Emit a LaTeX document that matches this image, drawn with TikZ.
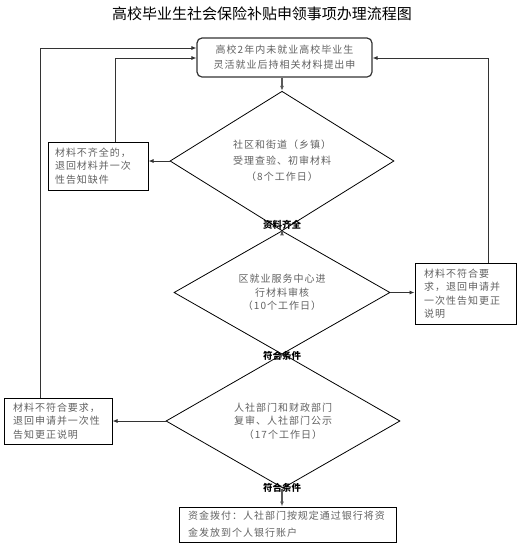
\documentclass[tikz,border=0pt]{standalone}
\usepackage{fontspec}
\usetikzlibrary{shapes.geometric,arrows.meta}
\newfontfamily\cjk[LetterSpace=10]{Noto Sans CJK SC}
\newfontfamily\cjktitle{Noto Sans CJK SC}
\newfontfamily\cjklabel{Noto Sans CJK SC}
\tikzset{
  txt/.style={font=\cjk\fontsize{10}{13.5}\selectfont, text=black!62},
  dia/.style={draw=black, line width=0.8pt, diamond, txt, align=center, inner sep=0pt},
  boxl/.style={draw=black, line width=1pt, rectangle, txt, align=left, inner sep=0pt, anchor=center},
  lab/.style={font=\cjklabel\bfseries\fontsize{9.5}{11}\selectfont, text=black, inner sep=0pt},
  conn/.style={draw=black!80, line width=0.8pt, -{Latex[length=5pt,width=4pt]}},
  mainconn/.style={draw=black!65, line width=1.3pt, -{Latex[length=5pt,width=4pt]}},
}
\begin{document}
\begin{tikzpicture}[x=1pt,y=-1pt]
\useasboundingbox (0,0) rectangle (524,547);
\node[font=\cjktitle\fontsize{15}{18}\selectfont] (title) at (262,14) {高校毕业生社会保险补贴申领事项办理流程图};

\node[draw=black!80, line width=1.2pt, rounded corners=5pt, minimum width=175pt, minimum height=39pt, txt, align=center, inner sep=0pt, font=\cjk\fontsize{10}{15}\selectfont] (top) at (284.5,57.5) {高校2年内未就业高校毕业生\\灵活就业后持相关材料提出申};

\node[dia, minimum width=224pt, minimum height=102pt, font=\cjk\fontsize{10}{16}\selectfont] (d1) at (282,161) {社区和街道（乡镇）\\受理查验、初审材料\\（8个工作日）};
\node[dia, minimum width=216pt, minimum height=91pt] (d2) at (282,292.5) {区就业服务中心进\\行材料审核\\（10个工作日）};
\node[dia, minimum width=234pt, minimum height=94pt] (d3) at (283,421) {人社部门和财政部门\\复审、人社部门公示\\（17个工作日）};

\node[boxl, minimum width=100pt, minimum height=48pt, text width=86pt] (b1) at (98,166) {材料不齐全的，\\退回材料并一次\\性告知缺件};
\node[boxl, minimum width=101pt, minimum height=61pt, text width=83pt] (b2) at (465.5,293.5) {材料不符合要\\求，退回申请并\\一次性告知更正\\说明};
\node[boxl, minimum width=108pt, minimum height=46pt, text width=90pt] (b3) at (58,421) {材料不符合要求，\\退回申请并一次性\\告知更正说明};
\node[boxl, minimum width=217pt, minimum height=35pt, text width=199pt, font=\cjk\fontsize{10}{17}\selectfont] (b4) at (287.5,524.5) {资金拨付：人社部门按规定通过银行将资\\金发放到个人银行账户};

\node[lab] (l1) at (282,225) {资料齐全};
\node[lab] (l2) at (282,356) {符合条件};
\node[lab] (l3) at (282,488) {符合条件};

% main flow
\draw[mainconn] (d1.north |- top.south) -- (d1.north);
\draw[mainconn] (d1.south) -- (d2.north);
\draw[mainconn] (d2.south) -- (d3.north);
\draw[mainconn] (d3.south -| d2.south) -- (d2.south |- b4.north);

% side branches
\draw[conn] (d1.west) -- (d1.west -| b1.east);
\draw[conn] (d2.east) -- (d2.east -| b2.west);
\draw[conn] (d3.west) -- (d3.west -| b3.east);

% returns
\coordinate (r1) at (115,58);
\coordinate (r3) at (40,48);
\coordinate (r2) at (488,58);
\draw[conn] (b1.north -| r1) -- (r1) -- (r1 -| top.west);
\draw[conn] (b3.north -| r3) -- (r3) -- (r3 -| top.west);
\draw[conn] (b2.north -| r2) -- (r2) -- (r2 -| top.east);
\end{tikzpicture}
\end{document}
